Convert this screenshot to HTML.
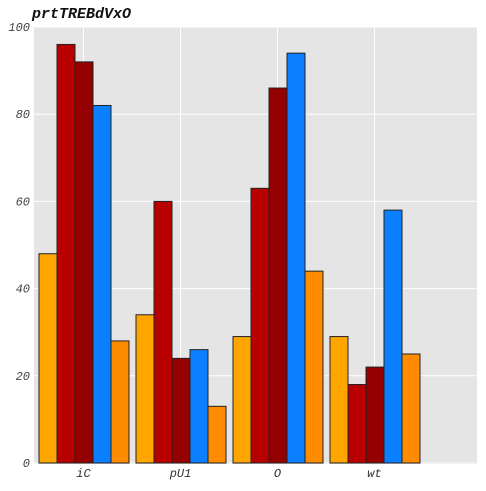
<!DOCTYPE html>
<html><head><meta charset="utf-8"><style>
body{margin:0;background:#fff;}
svg text{font-family:"Liberation Mono",monospace;font-style:italic;}
</style></head><body>
<svg width="486" height="486" id="c">
<rect x="34" y="27" width="443" height="437" fill="#e5e5e5"/>
<text x="32" y="18" font-size="15" font-weight="bold" fill="#111">prtTREBdVxO</text>
<g id="grid"></g><g id="bars"></g><g id="ticks"></g>
</svg>
<script>
const categories=["iC","pU1","O","wt"];
const s1=[48,34,29,29];
const s2=[96,60,63,18];
const s3=[92,24,86,22];
const s4=[82,26,94,58];
const s5=[28,13,44,25];
const yTicks=[0,20,40,60,80,100];
const series=[s1,s2,s3,s4,s5];
const colors=["#ffa500","#b80000","#950000","#0a7fff","#ff8c00"];
const NS="http://www.w3.org/2000/svg";
const y=v=>463-v*4.36;
const xc=i=>83.5+i*97;
const bw=18;
function mk(t,a,p){const e=document.createElementNS(NS,t);for(const k in a)e.setAttribute(k,a[k]);p.appendChild(e);return e;}
const g=document.getElementById('grid'),b=document.getElementById('bars'),tk=document.getElementById('ticks');
yTicks.forEach(v=>{
 const l=mk('line',{x1:34,x2:477,y1:y(v),y2:y(v),stroke:'#fff','stroke-width':1},g);
 
 
 const t=mk('text',{x:30,y:y(v)+4,'text-anchor':'end','font-size':12,fill:'#444'},tk);
 t.textContent=v;
 
 
});
categories.forEach((c,i)=>{
 const l=mk('line',{x1:xc(i),x2:xc(i),y1:27,y2:464,stroke:'#fff','stroke-width':1},g);
 
 
 series.forEach((s,j)=>{
  const x0=xc(i)-2.5*bw+j*bw;
  const r=mk('rect',{x:x0+0.5,y:y(s[i]),width:bw,height:463-y(s[i]),fill:colors[j],stroke:'#222','stroke-width':1},b);
  
  
 });
 const t=mk('text',{x:xc(i),y:477,'text-anchor':'middle','font-size':12,fill:'#333'},tk);
 t.textContent=c;
 
 
});
</script>
</body></html>
